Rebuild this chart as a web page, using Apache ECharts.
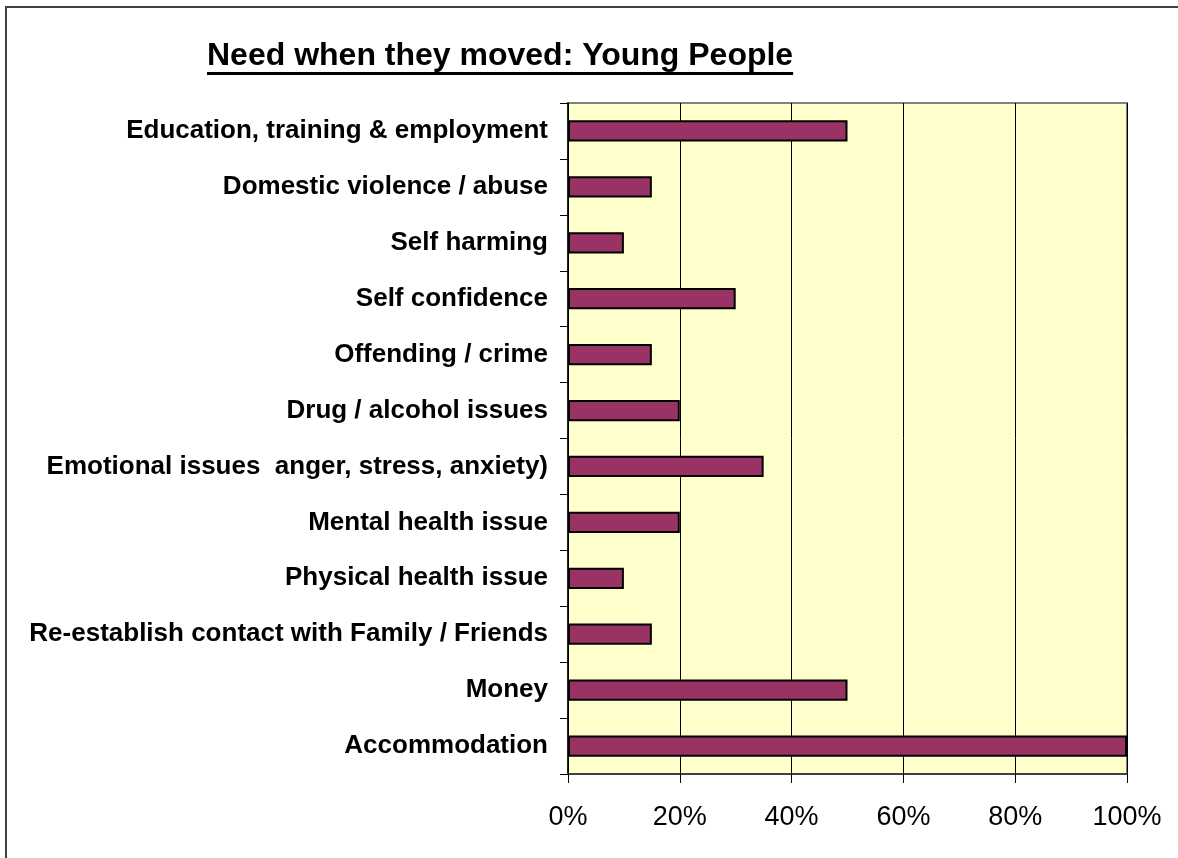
<!DOCTYPE html>
<html>
<head>
<meta charset="utf-8">
<title>Need when they moved: Young People</title>
<script src="https://cdn.jsdelivr.net/npm/echarts@6/dist/echarts.min.js"></script>
<style>
  html, body { margin: 0; padding: 0; background: #ffffff; }
  #chart { width: 1178px; height: 858px; }
</style>
</head>
<body>
<div id="chart"></div>
<script>
// Needs listed top to bottom
const categories = [
  'Education, training & employment',
  'Domestic violence / abuse',
  'Self harming',
  'Self confidence',
  'Offending / crime',
  'Drug / alcohol issues',
  'Emotional issues  anger, stress, anxiety)',
  'Mental health issue',
  'Physical health issue',
  'Re-establish contact with Family / Friends',
  'Money',
  'Accommodation'
];
// Share of young people with each need (%)
const values = [50, 15, 10, 30, 15, 20, 35, 20, 10, 15, 50, 100];
const xTicks = [0, 20, 40, 60, 80, 100];

const titleText = 'Need when they moved: Young People';
const titleFont = 'bold 32px "Liberation Sans", Arial, sans-serif';
const titleLeft = 207;

// measure the title so the underline spans exactly the text
const ctx = document.createElement('canvas').getContext('2d');
ctx.font = titleFont;
const titleWidth = ctx.measureText(titleText).width;

const chart = echarts.init(document.getElementById('chart'), null, { renderer: 'canvas' });

chart.setOption({
  animation: false,
  backgroundColor: '#ffffff',
  title: {
    text: titleText,
    left: titleLeft,
    top: 40,
    padding: 0,
    textStyle: {
      fontFamily: '"Liberation Sans", Arial, sans-serif',
      fontSize: 32,
      fontWeight: 'bold',
      color: '#000000',
      lineHeight: 32
    }
  },
  graphic: [
    {
      type: 'rect',
      silent: true,
      shape: { x: 6, y: 7, width: 1400, height: 1000 },
      style: { fill: 'none', stroke: '#404040', lineWidth: 2 }
    },
    {
      type: 'line',
      silent: true,
      shape: { x1: titleLeft, y1: 73.5, x2: titleLeft + titleWidth, y2: 73.5 },
      style: { stroke: '#000000', lineWidth: 3 }
    }
  ],
  grid: {
    left: 568,
    right: 51,
    top: 103,
    bottom: 84,
    show: true,
    backgroundColor: '#FFFFCC',
    borderColor: '#808080',
    borderWidth: 2
  },
  xAxis: {
    type: 'value',
    min: xTicks[0],
    max: xTicks[xTicks.length - 1],
    interval: xTicks[1] - xTicks[0],
    axisLine: { show: true, lineStyle: { color: '#404040', width: 2 } },
    axisTick: { show: true, length: 9, lineStyle: { color: '#000000', width: 1 } },
    splitLine: { show: true, lineStyle: { color: '#000000', width: 1 } },
    axisLabel: {
      formatter: '{value}%',
      fontFamily: '"Liberation Sans", Arial, sans-serif',
      fontSize: 27,
      color: '#000000',
      margin: 30
    }
  },
  yAxis: {
    type: 'category',
    data: categories,
    inverse: true,
    axisLine: { show: true, lineStyle: { color: '#000000', width: 1.5 } },
    axisTick: { show: true, length: 8, interval: 0, lineStyle: { color: '#000000', width: 1 } },
    splitLine: { show: false },
    axisLabel: {
      interval: 0,
      fontFamily: '"Liberation Sans", Arial, sans-serif',
      fontSize: 26,
      fontWeight: 'bold',
      color: '#000000',
      margin: 20
    }
  },
  series: [
    {
      type: 'bar',
      data: values,
      barWidth: '38%',
      itemStyle: {
        color: '#993366',
        borderColor: '#000000',
        borderWidth: 2
      }
    }
  ]
});
</script>
</body>
</html>
